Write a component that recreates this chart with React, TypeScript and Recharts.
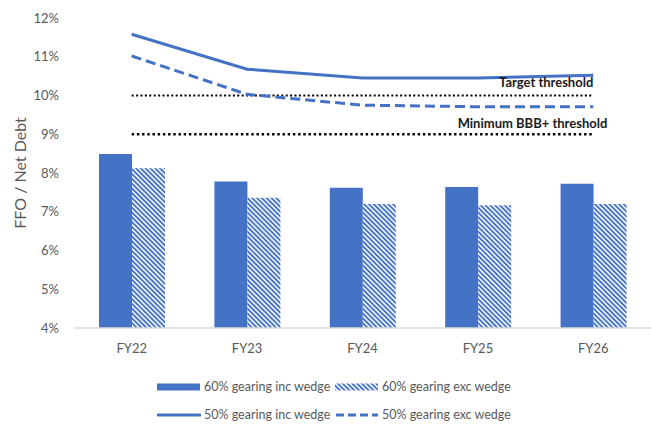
import { ComposedChart, Bar, Line, XAxis, YAxis, LabelList } from "recharts";

const years = ["FY22", "FY23", "FY24", "FY25", "FY26"];
const gearing60Inc = [8.49, 7.78, 7.62, 7.64, 7.72];
const gearing60Exc = [8.12, 7.36, 7.2, 7.17, 7.2];
const gearing50Inc = [11.58, 10.68, 10.45, 10.45, 10.52];
const gearing50Exc = [11.02, 10.03, 9.75, 9.71, 9.71];
const targetThreshold = [10, 10, 10, 10, 10];
const minimumThreshold = [9, 9, 9, 9, 9];
const yTicks = [4, 5, 6, 7, 8, 9, 10, 11, 12];

const BLUE = "#4472C4";
const GREY = "#595959";
const FONT = "Lato, 'Noto Sans', sans-serif";

const data = years.map((year, i) => ({
  year,
  inc60: gearing60Inc[i],
  exc60: gearing60Exc[i],
  inc50: gearing50Inc[i],
  exc50: gearing50Exc[i],
  target: targetThreshold[i],
  minimum: minimumThreshold[i],
}));

const LAST = years.length - 1;

// Threshold captions sit above the right-hand end of their dotted line.
function thresholdLabel(text: string, dx: number, dy: number) {
  return (props: any) => {
    if (props.index !== LAST) return null;
    return (
      <text
        x={Number(props.x) + dx}
        y={Number(props.y) + dy}
        textAnchor="end"
        fontFamily={FONT}
        fontWeight={700}
        fontSize={13}
        fill="#1a1a1a"
      >
        {text}
      </text>
    );
  };
}

function HatchDefs() {
  return (
    <defs>
      <pattern
        id="hatch"
        width="3.4"
        height="3.4"
        patternUnits="userSpaceOnUse"
        patternTransform="rotate(-45)"
      >
        <rect width="3.4" height="3.4" fill="#ffffff" />
        <rect width="1.9" height="3.4" fill={BLUE} />
      </pattern>
    </defs>
  );
}

const legendItems = [
  { label: "60% gearing inc wedge", kind: "bar" },
  { label: "60% gearing exc wedge", kind: "hatch" },
  { label: "50% gearing inc wedge", kind: "line" },
  { label: "50% gearing exc wedge", kind: "dash" },
];

function Swatch({ kind }: { kind: string }) {
  return (
    <svg width={44} height={10} style={{ marginRight: 3 }}>
      <HatchDefs />
      {kind === "bar" && <rect x={0} y={1.5} width={43} height={7} fill={BLUE} />}
      {kind === "hatch" && <rect x={0} y={1.5} width={43} height={7} fill="url(#hatch)" />}
      {kind === "line" && (
        <line x1={1} x2={43} y1={5} y2={5} stroke={BLUE} strokeWidth={3} strokeLinecap="round" />
      )}
      {kind === "dash" && (
        <line x1={1} x2={43} y1={5} y2={5} stroke={BLUE} strokeWidth={3} strokeDasharray="8 4" />
      )}
    </svg>
  );
}

function ChartLegend() {
  return (
    <div
      style={{
        position: "absolute",
        left: 157,
        top: 377,
        display: "grid",
        gridTemplateColumns: "178px 200px",
        rowGap: 8,
        fontFamily: FONT,
        fontSize: 12.5,
        color: GREY,
        lineHeight: "20px",
      }}
    >
      {legendItems.map((item) => (
        <div key={item.label} style={{ display: "flex", alignItems: "center", whiteSpace: "nowrap" }}>
          <Swatch kind={item.kind} />
          <span>{item.label}</span>
        </div>
      ))}
    </div>
  );
}

export default function App() {
  return (
    <div style={{ position: "absolute", left: 0, top: 0, width: 652, height: 424, background: "#fff" }}>
      <ComposedChart
        width={652}
        height={424}
        data={data}
        margin={{ top: 18, right: 1, bottom: 66, left: 0 }}
        barGap={0}
      >
        <HatchDefs />
        <XAxis
          dataKey="year"
          axisLine={{ stroke: "#d9d9d9", strokeWidth: 1.5 }}
          tickLine={false}
          tickMargin={10}
          height={30}
          tick={{ fill: GREY, fontSize: 13, fontFamily: FONT }}
        />
        <YAxis
          domain={[4, 12]}
          ticks={yTicks}
          width={74}
          axisLine={false}
          tickLine={false}
          tickMargin={9}
          tickFormatter={(v) => `${v}%`}
          tick={{ fill: GREY, fontSize: 13, fontFamily: FONT }}
          label={{
            value: "FFO / Net Debt",
            angle: -90,
            position: "insideLeft",
            offset: 20,
            fill: GREY,
            fontSize: 16,
            fontFamily: FONT,
            style: { textAnchor: "middle" },
          }}
        />
        <Bar dataKey="inc60" barSize={33} fill={BLUE} isAnimationActive={false} />
        <Bar dataKey="exc60" barSize={33} fill="url(#hatch)" isAnimationActive={false} />
        <Line
          dataKey="target"
          stroke="#000"
          strokeWidth={2}
          strokeDasharray="2 2.4"
          dot={false}
          isAnimationActive={false}
        >
          <LabelList content={thresholdLabel("Target threshold", 0, -9)} />
        </Line>
        <Line
          dataKey="minimum"
          stroke="#000"
          strokeWidth={2.4}
          strokeDasharray="2.4 2.8"
          dot={false}
          isAnimationActive={false}
        >
          <LabelList content={thresholdLabel("Minimum BBB+ threshold", 14, -6)} />
        </Line>
        <Line
          dataKey="inc50"
          stroke={BLUE}
          strokeWidth={3}
          dot={false}
          isAnimationActive={false}
        />
        <Line
          dataKey="exc50"
          stroke={BLUE}
          strokeWidth={3}
          strokeDasharray="10 5"
          dot={false}
          isAnimationActive={false}
        />
      </ComposedChart>
      <ChartLegend />
    </div>
  );
}
